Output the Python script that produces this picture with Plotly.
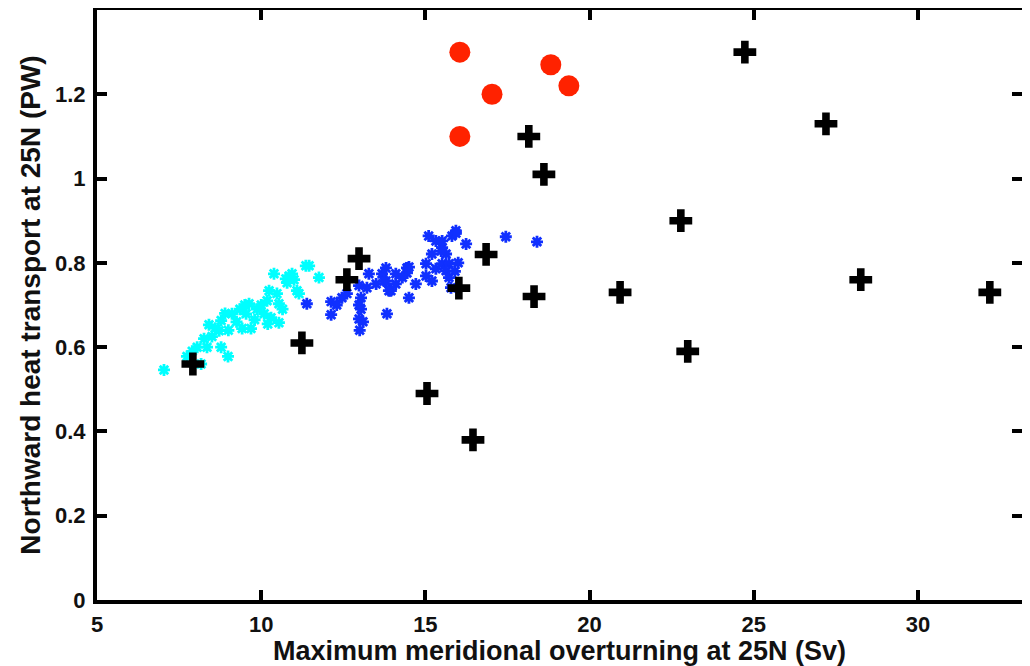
import plotly.graph_objects as go

# Cyan model ensemble
cyan_x = [7.04, 7.74, 8.17, 7.9, 8.05, 8.26, 8.41, 8.78, 8.72, 8.78, 8.99, 9.11, 9.42, 9.69, 9.63,
          9.54, 9.87, 10.09, 10.24, 10.18, 10.48, 10.54, 10.54, 10.3, 10.39, 10.79, 10.94, 11.09,
          11.15, 11.36, 11.46, 11.76, 10.85, 10.75, 8.6, 8.5, 9.0, 9.25, 9.8, 10.0, 9.35, 8.9, 9.5,
          10.65, 10.2, 8.35, 11.0]
cyan_y = [0.546, 0.578, 0.56, 0.59, 0.60, 0.62, 0.653, 0.663, 0.639, 0.60, 0.578, 0.679, 0.644, 0.644,
          0.703, 0.679, 0.69, 0.679, 0.734, 0.71, 0.727, 0.703, 0.658, 0.67, 0.774, 0.753, 0.774, 0.734,
          0.727, 0.793, 0.793, 0.765, 0.769, 0.762, 0.645, 0.625, 0.64, 0.66, 0.665, 0.70, 0.69, 0.68,
          0.70, 0.69, 0.655, 0.60, 0.76]

# Blue model ensemble
blue_x = [11.39, 12.13, 12.13, 12.46, 12.61, 12.98, 13.04, 13.04, 12.98, 12.98, 13.28, 13.22, 13.5,
          13.68, 13.8, 13.8, 13.89, 13.83, 13.74, 13.95, 14.1, 14.44, 14.44, 14.5, 14.5, 14.71, 15.02,
          15.02, 15.2, 15.32, 15.51, 15.72, 15.63, 15.72, 15.78, 15.51, 15.63, 15.48, 15.32, 15.1,
          15.93, 15.81, 16.24, 15.2, 17.45, 18.4, 15.51, 15.93, 14.1, 14.3, 16.0, 15.9, 12.3, 13.1, 13.0]
blue_y = [0.703, 0.708, 0.677, 0.717, 0.727, 0.746, 0.717, 0.69, 0.667, 0.70, 0.774, 0.741, 0.75,
          0.774, 0.788, 0.757, 0.734, 0.679, 0.757, 0.734, 0.774, 0.788, 0.776, 0.79, 0.717, 0.75, 0.798,
          0.769, 0.757, 0.786, 0.798, 0.798, 0.781, 0.765, 0.741, 0.836, 0.821, 0.828, 0.852, 0.864,
          0.876, 0.864, 0.845, 0.821, 0.862, 0.85, 0.852, 0.87, 0.75, 0.765, 0.80, 0.78, 0.70, 0.66, 0.64]

# Black crosses (individual models)
black_x = [24.73, 27.2, 18.15, 18.61, 22.78, 12.98, 16.85, 12.61, 16.02, 18.31, 20.93, 28.26, 32.19,
           22.99, 11.24, 7.92, 15.05, 16.45]
black_y = [1.30, 1.13, 1.10, 1.01, 0.90, 0.81, 0.82, 0.76, 0.74, 0.72, 0.73, 0.76, 0.73,
           0.59, 0.61, 0.56, 0.49, 0.38]

# Red circles (observations)
red_x = [16.05, 17.03, 18.82, 19.37, 16.05]
red_y = [1.30, 1.20, 1.27, 1.22, 1.10]

x_ticks = [5, 10, 15, 20, 25, 30]
y_ticks = [0, 0.2, 0.4, 0.6, 0.8, 1, 1.2]

fig = go.Figure()
fig.add_trace(go.Scatter(x=cyan_x, y=cyan_y, mode="markers",
                         marker=dict(symbol="asterisk-open", size=10, color="#00FFFF",
                                     line=dict(color="#00FFFF", width=2.8))))
fig.add_trace(go.Scatter(x=blue_x, y=blue_y, mode="markers",
                         marker=dict(symbol="asterisk-open", size=10, color="#1030FF",
                                     line=dict(color="#1030FF", width=2.8))))
fig.add_trace(go.Scatter(x=black_x, y=black_y, mode="markers",
                         marker=dict(symbol="cross", size=19, color="black", line=dict(width=0))))
fig.add_trace(go.Scatter(x=red_x, y=red_y, mode="markers",
                         marker=dict(symbol="circle", size=21, color="#FF2200", line=dict(width=0))))

axis_common = dict(showline=True, linecolor="black", linewidth=4, mirror="ticks",
                   ticks="inside", ticklen=10, tickwidth=4, tickcolor="black",
                   showgrid=False, zeroline=False, automargin=False,
                   tickfont=dict(family="Liberation Sans", size=22, color="#111111", weight="bold"))

fig.update_layout(
    width=1022, height=658,
    margin=dict(l=89, r=8, t=2, b=66),
    paper_bgcolor="white", plot_bgcolor="white",
    showlegend=False,
    xaxis=dict(range=[5, 33.17], tickvals=x_ticks, ticklabelstandoff=2,
               title=dict(text="Maximum meridional overturning at 25N (Sv)", standoff=1,
                          font=dict(family="Liberation Sans", size=27, color="#111111", weight="bold")),
               **axis_common),
    yaxis=dict(range=[0, 1.4], tickvals=y_ticks, ticklabelstandoff=3,
               title=dict(text="Northward heat transport at 25N (PW)", standoff=7,
                          font=dict(family="Liberation Sans", size=28, color="#111111", weight="bold")),
               **axis_common),
)

fig.write_html("out.html")
